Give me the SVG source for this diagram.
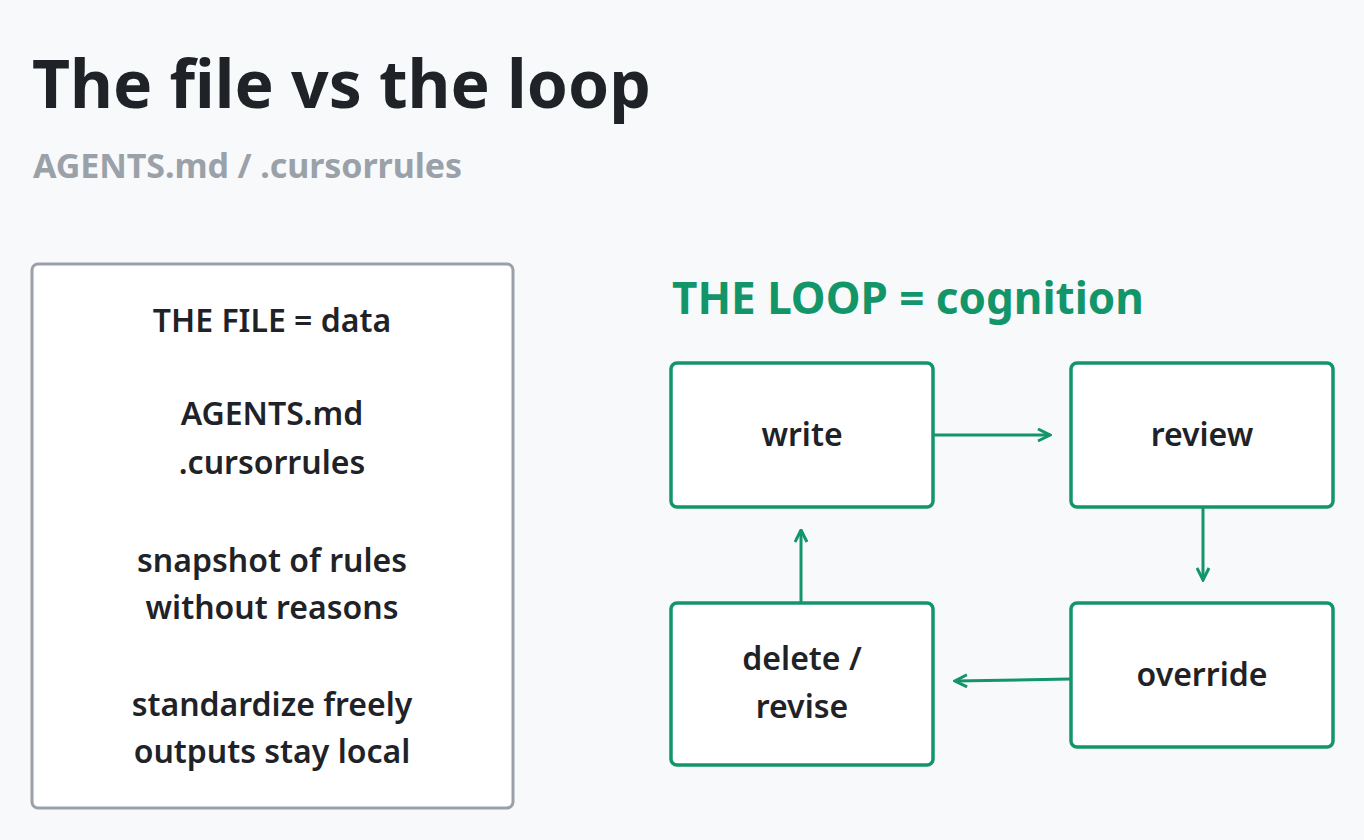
<svg xmlns="http://www.w3.org/2000/svg" width="1364" height="840" viewBox="0 0 1364 840">
<defs>
<style>
text{font-family:"Noto Sans","Liberation Sans",sans-serif}
.t{font-size:32px;font-weight:600;fill:#1f2328;text-anchor:middle}
.g{fill:#fff;stroke:#13956a;stroke-width:3.5}
.c{stroke:#13956a;stroke-width:3;fill:none;marker-end:url(#a)}
</style>
<marker id="a" viewBox="0 0 10 10" refX="9" refY="5" markerWidth="5" markerHeight="5" orient="auto"><path d="M1,1 L9,5 L1,9" fill="none" stroke="#13956a" stroke-width="2"/></marker>
</defs>
<rect width="1364" height="840" fill="#f8f9fb"/>
<text x="32" y="108" font-size="66" font-weight="700" fill="#1f2328">The file vs the loop</text>
<text x="33" y="178" font-size="34" font-weight="700" fill="#9aa1a9" textLength="429">AGENTS.md / .cursorrules</text>
<g id="file">
<rect x="32" y="264" width="481" height="544" rx="6" fill="#fff" stroke="#9aa0a8" stroke-width="3"/>
<text class="t" x="272" y="332">THE FILE = data</text>
<text class="t" x="272" y="425">AGENTS.md</text>
<text class="t" x="272" y="474">.cursorrules</text>
<text class="t" x="272" y="572">snapshot of rules</text>
<text class="t" x="272" y="619">without reasons</text>
<text class="t" x="272" y="716">standardize freely</text>
<text class="t" x="272" y="763">outputs stay local</text>
</g>
<text x="672" y="314" font-size="44" font-weight="700" fill="#13956a">THE LOOP = cognition</text>
<g id="write"><rect class="g" x="671" y="363" width="262" height="144" rx="6"/><text class="t" x="802" y="446">write</text></g>
<g id="review"><rect class="g" x="1071" y="363" width="262" height="144" rx="6"/><text class="t" x="1202" y="446">review</text></g>
<g id="override"><rect class="g" x="1071" y="603" width="262" height="144" rx="6"/><text class="t" x="1202" y="686">override</text></g>
<g id="delete"><rect class="g" x="671" y="603" width="262" height="162" rx="6"/><text class="t" x="802" y="670">delete /</text><text class="t" x="802" y="718">revise</text></g>
<g id="connectors">
<path class="c" d="M933,435 L1050,435"/>
<path class="c" d="M1203,507 L1203,580"/>
<path class="c" d="M1071,679 L955,681"/>
<path class="c" d="M801,603 L801,530"/>
</g>
</svg>
